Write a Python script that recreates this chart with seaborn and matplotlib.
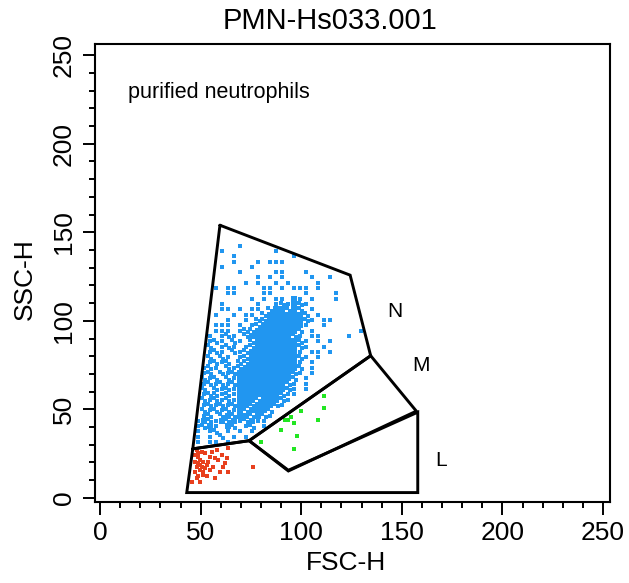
import matplotlib
matplotlib.use("Agg")
import matplotlib.pyplot as plt
import numpy as np
import pandas as pd
import seaborn as sns

# ---------------- data ----------------
title = "PMN-Hs033.001"
x_label = "FSC-H"
y_label = "SSC-H"
note = "purified neutrophils"
major_ticks = [0, 50, 100, 150, 200, 250]

# gate vertices (FSC-H, SSC-H)
gate_N_x = [59.6, 124.3, 134.5, 74.1, 46.1]
gate_N_y = [154.0, 125.8, 80.3, 32.3, 27.7]
gate_M_x = [74.1, 134.5, 157.2, 93.6]
gate_M_y = [32.3, 80.3, 49.0, 15.2]
gate_L_x = [46.1, 74.1, 93.6, 157.9, 157.9, 43.1]
gate_L_y = [27.7, 32.3, 15.6, 48.4, 3.0, 3.0]
gate_names = ["N", "M", "L"]
gate_label_x = [146.6, 159.3, 169.4]
gate_label_y = [105.5, 74.6, 21.0]

# neutrophil events read as an occupancy grid (3 x 3 channel cells)
# '#' = fully occupied cell, ':' = two events, '.' = one event
# first column FSC 44, first row SSC 156
grid_x0 = 44
grid_y0 = 156
grid_step = 3
neutrophil_rows = [
    "",
    "",
    "",
    "",
    "        .",
    "     .        .",
    "       .         .",
    "       .   . ...",
    "     .    .",
    "        .     ..   .",
    "           . . .    .  .",
    "         . .  . .    .",
    "    . ..    .. . ... .",
    "      ..    ..     .    .",
    "          . . .. #. .   .",
    "     .     .  .:.#:.",
    "     .. . .. :##:#: .",
    "    .  . .. :######: .",
    "      .  . ::######:. ..",
    "    ... . .:#######.  .",
    "    ... .::#######: .       .",
    "   . .:. :#######:. ..    .",
    "   .:. :. :#######:. . .",
    "   : .:. .:#######:.  .",
    "   .:. :.:########. .. .",
    "   : :. .:########:. .",
    "   .:.: ::########. .",
    "  .:. :.:#########: .",
    "  .: :.:#########:. .",
    "  :.: :.#########: .",
    "  .:.:.:########:. .",
    "  : :.:.########:. .",
    "  .::.:.#######:..",
    "  :.:.:.###:###:.",
    "  .:.:.:##:###:.",
    "  :.:.:.#:###:",
    "  .: :#:##:#:.",
    " .#:.#:#.:#..",
    " .:#. #: .: .",
    " . .: . . .",
    " . . : . .",
    " . .. .",
]

lymph_x = [48.0, 50.5, 52.2, 55.5, 58.0, 63.8, 54.7, 57.2, 48.9, 47.2, 49.7, 51.4,
           58.8, 62.9, 48.0, 50.5, 53.0, 56.3, 62.1, 47.2, 49.7, 51.4, 54.7, 59.6,
           63.8, 48.9, 51.4, 53.0, 57.2, 45.6, 49.7, 76.2, 48.9, 47.2, 49.7, 48.0,
           52.2, 48.9, 53.9, 60.5, 61.3]
lymph_y = [27.1, 26.1, 25.2, 26.1, 27.1, 28.0, 23.3, 22.4, 23.3, 20.5, 21.4, 20.5,
           21.4, 22.4, 17.7, 17.7, 18.6, 17.7, 19.5, 14.9, 15.8, 14.9, 15.8, 14.9,
           14.9, 12.1, 13.0, 12.1, 11.1, 9.2, 9.2, 17.3, 25.2, 24.3, 18.6, 11.1,
           16.8, 19.5, 20.5, 24.3, 17.7]

mono_x = [111.5, 111.5, 99.7, 94.8, 92.0, 93.6, 96.4, 89.8, 98.1, 108.1, 96.4, 79.8]
mono_y = [57.7, 50.9, 49.1, 45.7, 43.8, 43.8, 42.1, 38.3, 35.1, 43.8, 27.7, 31.4]

# ---------------- build tables ----------------
solid, single = [], []
for j, row in enumerate(neutrophil_rows):
    for i, c in enumerate(row):
        cx = grid_x0 + grid_step * i + grid_step / 2
        cy = grid_y0 - grid_step * j - grid_step / 2
        if c == "#":
            solid.append((cx, cy))
        elif c == ".":
            single.append((cx, cy))
        elif c == ":":
            single.append((cx - 0.8, cy + 0.8))
            single.append((cx + 0.8, cy - 0.8))
solid_df = pd.DataFrame(solid, columns=["FSC", "SSC"])
single_df = pd.DataFrame(single, columns=["FSC", "SSC"])
lymph_df = pd.DataFrame({"FSC": lymph_x, "SSC": lymph_y})
mono_df = pd.DataFrame({"FSC": mono_x, "SSC": mono_y})

# ---------------- plot ----------------
sns.set_style("ticks")
plt.rcParams["font.family"] = ["Liberation Sans", "DejaVu Sans"]
plt.rcParams["text.color"] = "black"
plt.rcParams["xtick.color"] = "black"
plt.rcParams["ytick.color"] = "black"

fig = plt.figure(figsize=(6.29, 5.83), dpi=100)
ax = fig.add_axes([0.151, 0.139, 0.819, 0.786])

blue = "#2196F0"
sns.scatterplot(data=solid_df, x="FSC", y="SSC", ax=ax, marker="s", s=20,
                color=blue, linewidth=0, legend=False)
sns.scatterplot(data=single_df, x="FSC", y="SSC", ax=ax, marker="s", s=6,
                color=blue, linewidth=0, legend=False)
sns.scatterplot(data=lymph_df, x="FSC", y="SSC", ax=ax, marker="s", s=6,
                color="#E8401E", linewidth=0, legend=False)
sns.scatterplot(data=mono_df, x="FSC", y="SSC", ax=ax, marker="s", s=6,
                color="#22E622", linewidth=0, legend=False)

for gx, gy in [(gate_N_x, gate_N_y), (gate_M_x, gate_M_y), (gate_L_x, gate_L_y)]:
    ax.plot(gx + [gx[0]], gy + [gy[0]], color="black", lw=2.1,
            solid_joinstyle="miter")

for name, lx, ly in zip(gate_names, gate_label_x, gate_label_y):
    ax.text(lx, ly, name, fontsize=15, ha="center", va="center", color="black")

ax.text(13.9, 229, note, fontsize=15.5, ha="left", va="center", color="black")

ax.set_xlim(-2.5, 253.5)
ax.set_ylim(-2.3, 256.5)
ax.set_xticks(major_ticks)
ax.set_yticks(major_ticks)
ax.set_xticks(np.arange(0, 251, 10), minor=True)
ax.set_yticks(np.arange(0, 251, 10), minor=True)
ax.tick_params(axis="both", which="major", direction="out", length=9, width=1.4,
               labelsize=19, pad=5, color="black", labelcolor="black")
ax.tick_params(axis="both", which="minor", direction="out", length=4.5, width=1.4,
               color="black")
for lab in ax.get_yticklabels():
    lab.set_rotation(90)
    lab.set_va("center")
ax.set_xlabel("")
ax.set_ylabel("")
for sp in ax.spines.values():
    sp.set_visible(True)
    sp.set_linewidth(1.5)
    sp.set_color("black")

fig.text(329.5 / 629, 1 - 21 / 583, title, fontsize=21, ha="center", va="center",
         color="black")
fig.text(346 / 629, 1 - 563 / 583, x_label, fontsize=19, ha="center", va="center",
         color="black")
fig.text(25 / 629, 1 - 279 / 583, y_label, fontsize=19, ha="center", va="center",
         rotation=90, color="black")

fig.savefig("out.png", dpi=100)
